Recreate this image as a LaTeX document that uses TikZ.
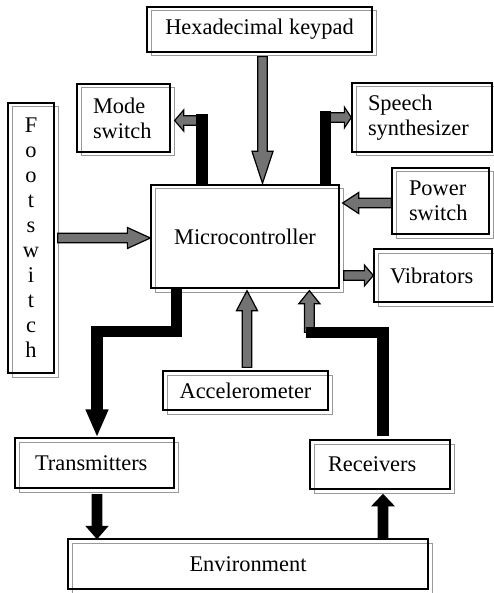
\documentclass[tikz,border=0pt]{standalone}
\usepackage{fontspec}
\setmainfont{Liberation Serif}
\usetikzlibrary{calc,arrows.meta}
\definecolor{arrgray}{gray}{0.45}
\newcommand{\blockarrow}[4][arrgray]{%
  \coordinate (ba) at (#2); \coordinate (bb) at (#3);
  \coordinate (bh) at ($(bb)!#4!(ba)$);
  \draw[fill=#1,line width=0.6pt,line join=miter] ($(ba)!2.4pt!90:(bb)$) -- ($(bh)!2.4pt!90:(bb)$) -- ($(bh)!5.25pt!90:(bb)$) -- (bb) -- ($(bh)!5.25pt!-90:(bb)$) -- ($(bh)!2.4pt!-90:(bb)$) -- ($(ba)!2.4pt!-90:(bb)$) -- cycle;}
\begin{document}
\begin{tikzpicture}[x=0.5pt,y=-0.5pt,font=\fontsize{11.2}{12.5}\selectfont,
  dbox/.style={draw,line width=0.65pt,align=center,inner sep=0pt,
    preaction={draw=black!40,line width=0.5pt,transform canvas={shift={(2pt,-2pt)}}}},
  lbox/.style={dbox,align=left,inner xsep=#1},
  bar/.style={line width=5.75pt}]
\useasboundingbox (0,0) rectangle (493,593);
\node[dbox,minimum width=112.5pt,minimum height=22.5pt] (key) at (259.5,29.5) {Hexadecimal keypad};
\node[lbox=8pt,text width=30.5pt,minimum height=34pt] (mode) at (123.5,118) {Mode\\switch};
\node[lbox=8pt,text width=54pt,minimum height=34.5pt] (speech) at (422,117.5) {Speech\\synthesizer};
\node[dbox,minimum width=23pt,minimum height=135pt] (foot) at (31,238) {F\\o\\o\\t\\s\\w\\i\\t\\c\\h};
\node[dbox,minimum width=94pt,minimum height=51.5pt] (mcu) at (245,236.5) {Microcontroller};
\node[lbox=8.5pt,text width=31.5pt,minimum height=33pt] (power) at (440.5,201) {Power\\switch};
\node[lbox=8pt,text width=43pt,minimum height=26.5pt] (vib) at (433,275.5) {Vibrators};
\node[dbox,minimum width=82.5pt,minimum height=19.5pt] (acc) at (245.5,390.5) {Accelerometer};
\node[lbox=10pt,text width=59.5pt,minimum height=25pt] (trans) at (94.5,463) {Transmitters};
\node[lbox=9pt,text width=52pt,minimum height=24.5pt] (rec) at (380,464.5) {Receivers};
\node[dbox,minimum width=180pt,minimum height=25pt] (env) at (248,564) {Environment};
\blockarrow{$(key.south)+(3,4)$}{$(key.south |- mcu.north)+(3,-1)$}{16pt}
\blockarrow{$(mode.east)+(32,2.5)$}{$(mode.east)+(4,2.5)$}{4.5pt}
\draw[bar] ($(mcu.north west)+(51.5,0)$) -- ++(0,-70);
\blockarrow{$(speech.west)+(-26,0)$}{speech.west}{3.5pt}
\draw[bar] ($(mcu.north west)+(175,0)$) -- ++(0,-73);
\blockarrow{$(power.west)+(0,2)$}{$(power.west -| mcu.east)+(3,2)$}{8pt}
\blockarrow{$(foot.east)+(3,0)$}{foot.east -| mcu.west}{11.5pt}
\blockarrow{$(vib.west -| mcu.east)+(4,0)$}{vib.west}{4.5pt}
\blockarrow{$(acc.north)+(1.5,-3)$}{$(acc.north |- mcu.south)+(1.5,2)$}{10pt}
\blockarrow{$(rec.north west)+(0,-107)$}{$(rec.north west |- mcu.south)+(0,2)$}{6.5pt}
\draw[bar] ($(rec.north)+(3,-3)$) |- ($(rec.north west)+(-3,-107)$);
\draw[bar,-{Triangle[width=10.5pt,length=14pt]}] ($(mcu.south west)+(26,0)$) |- ($(trans.north)+(2.5,-106)$) -- ($(trans.north)+(2.5,0)$);
\blockarrow[black]{$(trans.south)+(2.5,6)$}{$(trans.south |- env.north)+(2.5,0)$}{6pt}
\blockarrow[black]{$(rec.south |- env.north)+(3,0)$}{$(rec.south)+(3,5)$}{5.5pt}
\end{tikzpicture}
\end{document}
